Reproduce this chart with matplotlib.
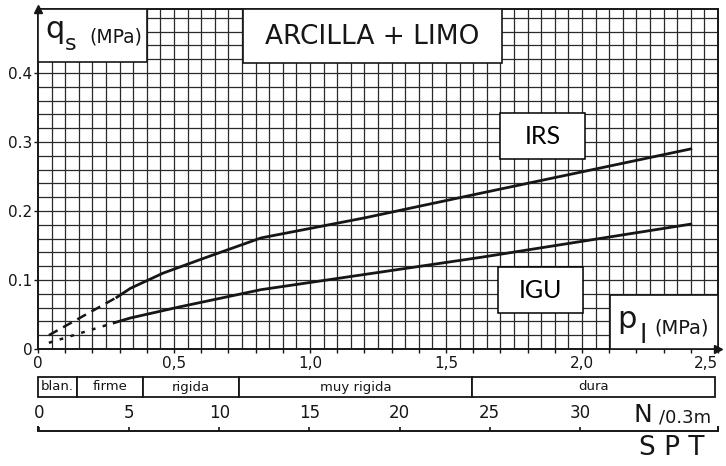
import numpy as np
import matplotlib.pyplot as plt
from matplotlib.patches import Rectangle

# curves: q_s (MPa) against p_l (MPa)
irs_dash_p = [0.04, 0.29]
irs_dash_q = [0.020, 0.075]
irs_p = [0.29, 0.34, 0.46, 0.62, 0.82, 1.20, 1.63, 2.40]
irs_q = [0.075, 0.088, 0.110, 0.133, 0.161, 0.190, 0.226, 0.290]

igu_dash_p = [0.04, 0.28]
igu_dash_q = [0.009, 0.038]
igu_p = [0.28, 0.34, 0.52, 0.82, 1.20, 1.63, 2.40]
igu_q = [0.038, 0.045, 0.061, 0.086, 0.108, 0.133, 0.181]

y_ticks = [0, 0.1, 0.2, 0.3, 0.4]
y_labels = ['0', '0.1', '0.2', '0.3', '0.4']
x_ticks = [0, 0.5, 1.0, 1.5, 2.0, 2.5]
x_labels = ['0', '0,5', '1,0', '1,5', '2,0', '2,5']

# consistency classes along the p_l scale
zones = ['blan.', 'firme', 'rigida', 'muy rigida', 'dura']
zone_edges = [0, 0.143, 0.386, 0.739, 1.596, 2.49]

# SPT scale
spt_ticks = [0, 5, 10, 15, 20, 25, 30]

W, H = 726, 466
ink = '#161616'


def box(x0, y0, x1, y1):
    # pixel box (top-left origin) -> figure fraction
    return [x0 / W, 1 - y1 / H, (x1 - x0) / W, (y1 - y0) / H]


fig = plt.figure(figsize=(W / 100, H / 100), dpi=100)
fig.patch.set_facecolor('white')

# main chart
ax = fig.add_axes(box(38, 9, 718, 349))
ax.set_xlim(0, 2.5)
ax.set_ylim(0, 0.4928)

ax.vlines(np.arange(0.05, 2.5, 0.05), 0, 0.4928, color='#2a2a2a', lw=0.9, zorder=1)
ax.hlines(np.arange(0.02, 0.49, 0.02), 0, 2.5, color='#2a2a2a', lw=0.9, zorder=1)

for s in ax.spines.values():
    s.set_linewidth(1.4)
    s.set_color(ink)

ax.set_yticks(y_ticks)
ax.set_yticklabels(y_labels, fontsize=11, color=ink)
ax.set_xticks(x_ticks)
ax.set_xticklabels(x_labels, fontsize=11, color=ink)
ax.get_xticklabels()[-1].set_ha('right')
ax.set_xticks(np.arange(0.1, 2.5, 0.1), minor=True)
ax.tick_params(axis='y', length=3, width=1, pad=1, colors=ink)
ax.tick_params(axis='x', which='both', length=3, width=1, pad=2, colors=ink)

# axis arrows
ax.plot(0, 0.4928, marker='^', ms=6, color=ink, clip_on=False, zorder=6)
ax.plot(2.5, 0, marker='>', ms=6, color=ink, clip_on=False, zorder=6)

# curves
ax.plot(irs_dash_p, irs_dash_q, color=ink, lw=1.8, ls=(0, (4, 2.5)), zorder=4)
ax.plot(irs_p, irs_q, color=ink, lw=2, zorder=4)
ax.plot(igu_dash_p, igu_dash_q, color=ink, lw=1.8, ls=(0, (1.5, 3)), zorder=4)
ax.plot(igu_p, igu_q, color=ink, lw=2, zorder=4)

# white label panels on the grid
panels = [(0, 0.416, 0.40, 0.4928), (0.754, 0.4145, 1.706, 0.4928),
          (2.103, 0, 2.5, 0.078)]
for x0, y0, x1, y1 in panels:
    ax.add_patch(Rectangle((x0, y0), x1 - x0, y1 - y0, facecolor='white',
                           edgecolor=ink, lw=1.2, zorder=3))

ax.text(1.23, 0.452, 'ARCILLA + LIMO', fontsize=19, ha='center', va='center',
        color=ink, zorder=5)
ax.text(0.028, 0.4507, 'q', fontsize=22, ha='left', va='baseline', color=ink, zorder=5)
ax.text(0.098, 0.433, 's', fontsize=16, ha='left', va='baseline', color=ink, zorder=5)
ax.text(0.19, 0.452, '(MPa)', fontsize=13.5, ha='left', va='center', color=ink, zorder=5)
ax.text(2.13, 0.030, 'p', fontsize=22, ha='left', va='baseline', color=ink, zorder=5)
ax.text(2.212, 0.009, 'l', fontsize=19, ha='left', va='baseline', color=ink, zorder=5)
ax.text(2.265, 0.030, '(MPa)', fontsize=14, ha='left', va='center', color=ink, zorder=5)

# curve name boxes
for name, x0, y0, x1, y1 in [('IRS', 1.70, 0.275, 2.01, 0.342),
                             ('IGU', 1.693, 0.052, 2.004, 0.119)]:
    ax.add_patch(Rectangle((x0, y0), x1 - x0, y1 - y0, facecolor='white',
                           edgecolor='black', lw=1.1, zorder=5))
    ax.text((x0 + x1) / 2, (y0 + y1) / 2, name, fontsize=18, family='Lato',
            ha='center', va='center', color='black', zorder=6)

# consistency band
band = fig.add_axes(box(38, 377, 718, 397))
band.set_xlim(0, 2.5)
band.set_ylim(0, 1)
band.axis('off')
for i, name in enumerate(zones):
    a, b = zone_edges[i], zone_edges[i + 1]
    band.add_patch(Rectangle((a, 0), b - a, 1, facecolor='white', edgecolor=ink,
                             lw=1.3, clip_on=False))
    band.text((a + b) / 2, 0.5, name, fontsize=9.5, ha='center', va='center', color=ink)

# SPT scale
spt = fig.add_axes(box(38, 400, 718, 431))
spt.set_xlim(-0.055, 37.66)
spt.set_ylim(0, 1)
spt.set_facecolor('none')
for k in ['top', 'left', 'right']:
    spt.spines[k].set_visible(False)
spt.spines['bottom'].set_linewidth(1.4)
spt.spines['bottom'].set_color(ink)
spt.set_yticks([])
spt.set_xticks(spt_ticks)
spt.tick_params(axis='x', direction='in', length=3, width=1.2, labelbottom=False, colors=ink)
spt.vlines([-0.055, 37.66], 0, 0.15, color=ink, lw=1.4, clip_on=False)
for n in spt_ticks:
    spt.text(n, 0.58, str(n), fontsize=12, ha='center', va='center', color=ink)
spt.text(33.0, 0.29, 'N', fontsize=18, ha='left', va='baseline', color=ink)
spt.text(34.4, 0.29, '/0.3m', fontsize=13, ha='left', va='baseline', color=ink)

fig.text(672 / W, 1 - 448 / H, 'S P T', fontsize=19, ha='center', va='center', color=ink)

fig.savefig('out.png', dpi=100)
